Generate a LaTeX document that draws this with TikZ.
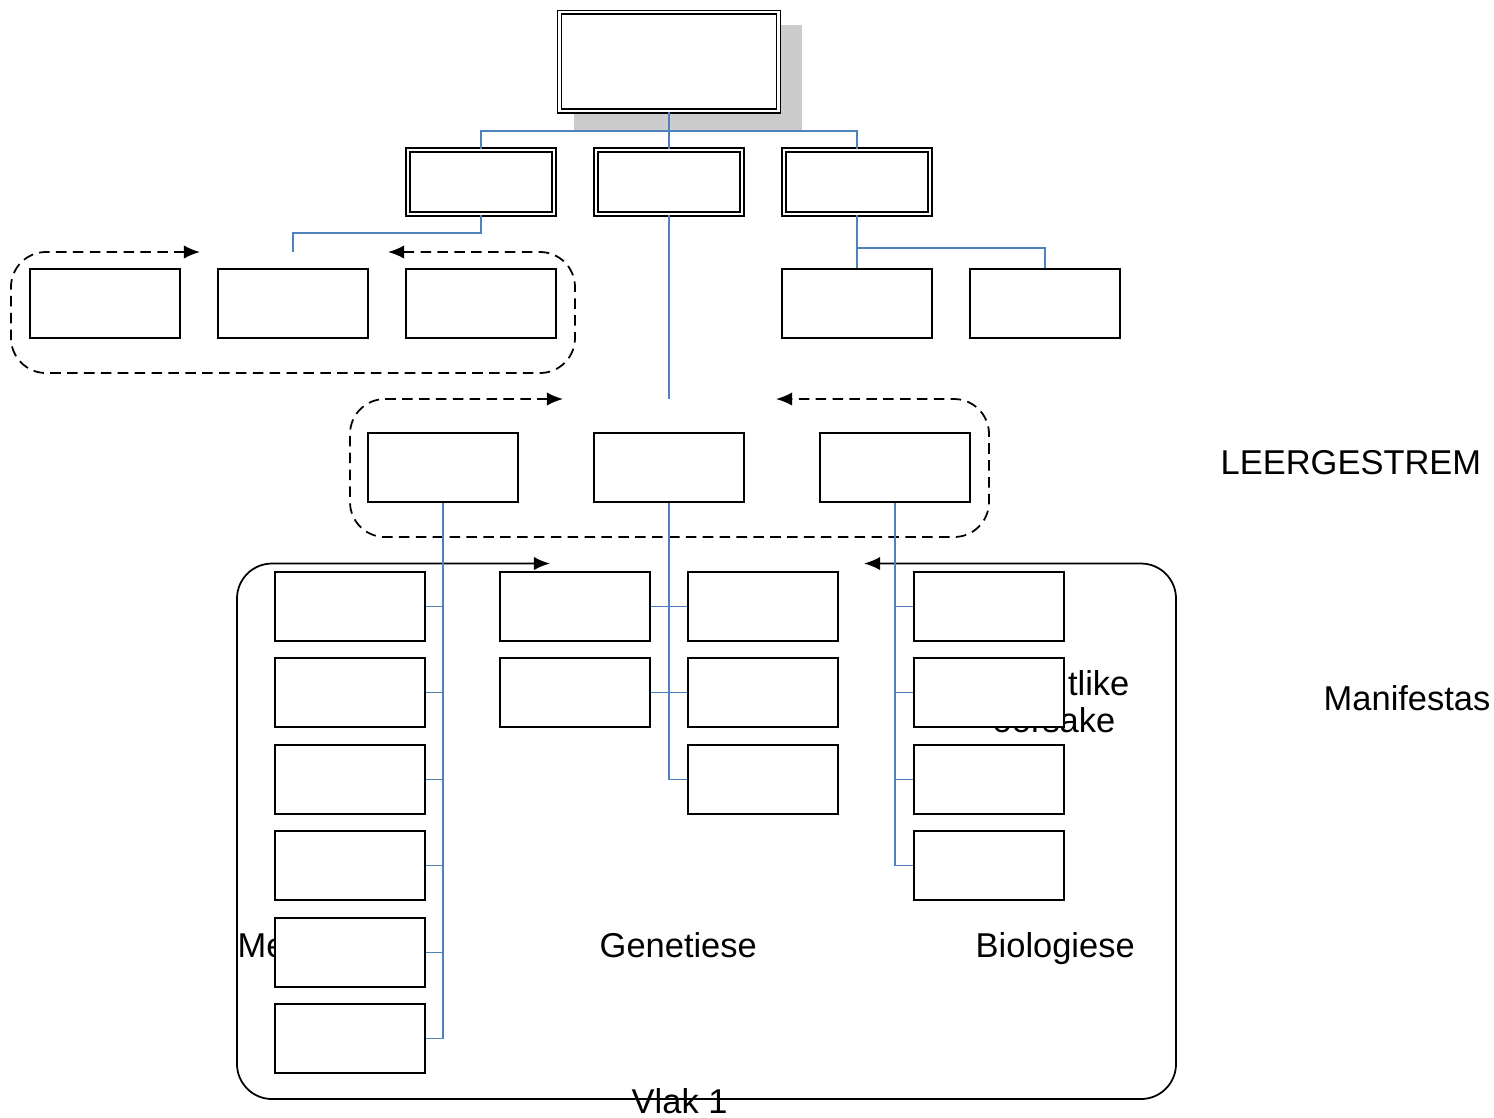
\documentclass[tikz,border=0pt]{standalone}
\usepackage{amsmath, amssymb}
\usepackage{fontspec}
\setmainfont{Liberation Sans}
\usepackage[dvipsnames,table]{xcolor}
\usepackage{tikz}
\usetikzlibrary{shapes,calc,backgrounds}
\usetikzlibrary{arrows.meta,positioning}

\definecolor{linkblue}{RGB}{79,129,189}
\definecolor{shadowgray}{RGB}{204,204,204}

\begin{document}
\begin{tikzpicture}[x=0.01cm,y=-0.01cm,
    box/.style={draw, line width=0.5pt, fill=white, minimum width=1.5cm, minimum height=0.69cm, inner sep=0pt},
    dbox/.style={draw, double, line width=0.45pt, double distance=0.65pt, fill=white, minimum width=1.46cm, minimum height=0.64cm, inner sep=0pt},
    link/.style={draw=linkblue, line width=0.45pt},
    flow/.style={line width=0.5pt, rounded corners=0.35cm, {Latex[length=4.6pt,width=3.8pt]}-{Latex[length=4.6pt,width=3.8pt]}},
    loopline/.style={flow, dash pattern=on 3pt off 1.8pt},
    label/.style={font=\fontsize{9.8}{11}\selectfont, inner sep=0pt}]
        \useasboundingbox (0,0) rectangle (1494,1117);
        % Labels that sit behind the boxes
        \node[label, anchor=base west] (me) at (237,957) {Me};
        \node[label, anchor=base east] (tlike) at (1130,695) {tlike};
        \node[label, anchor=base east] (oorsake) at (1116,732) {oorsake};
        \node[label, anchor=base west] (leer) at (1220,474) {LEERGESTREM};
        \node[label, anchor=base west] (manif) at (1323,710) {Manifestas};
        \node[label, anchor=base west] (gen) at (599,957) {Genetiese};
        \node[label, anchor=base west] (bio) at (975,957) {Biologiese};
        % Top of the tree
        \node[dbox, minimum width=2.19cm, minimum height=0.985cm] (top) at (669,61.5) {};
        \begin{scope}[on background layer]
            \fill[shadowgray] ($(top.north west)+(15.5,13.75)$) rectangle ($(top.south east)+(22.5,19.25)$);
        \end{scope}
        \node[dbox] (n1) at (481,182) {};
        \node[dbox] (n2) at (669,182) {};
        \node[dbox] (n3) at (857,182) {};
        \draw[link] (top.south) -- (n2.north);
        \draw[link] (top.south) -- ++(0,19.25) -| (n1.north);
        \draw[link] (top.south) -- ++(0,19.25) -| (n3.north);
        % Third row
        \node[box] (s1) at (105,303.5) {};
        \node[box] (s2) at (293,303.5) {};
        \node[box] (s3) at (481,303.5) {};
        \node[box] (r1) at (857,303.5) {};
        \node[box] (r2) at (1045,303.5) {};
        \coordinate (e1) at (293,252);
        \draw[link] (n1.south) -- ++(0,18) -| (e1);
        \draw[link] (n3.south) -- (r1.north);
        \draw[link] (n3.south) -- ++(0,33) -| (r2.north);
        \draw[loopline] (200,252) -- (11,252) -- (11,373) -- (575,373) -- (575,252) -- (388,252);
        % Fourth row
        \node[box] (c1) at (443,467.5) {};
        \node[box] (c2) at (669,467.5) {};
        \node[box] (c3) at (895,467.5) {};
        \coordinate (e2) at (669,399);
        \draw[link] (n2.south) -- (e2);
        \draw[loopline] (563,399) -- (350,399) -- (350,537) -- (989,537) -- (989,399) -- (776,399);
        % Vlak 1 frame
        \draw[flow] (550,563.5) -- (237,563.5) -- (237,1099) -- (1176,1099) -- (1176,563.5) -- (864,563.5);
        \node[label, anchor=base west] (vlak) at (631,1113) {Vlak 1};
        % Left column
        \node[box] (m1) at (350,606.5) {};
        \node[box] (m2) at (350,692.5) {};
        \node[box] (m3) at (350,779.5) {};
        \node[box] (m4) at (350,865.5) {};
        \node[box] (m5) at (350,952.5) {};
        \node[box] (m6) at (350,1038.5) {};
        \draw[link] (c1.south) |- (m6.east);
        \draw[link] (m1.east) -- (m1.east -| c1.south);
        \draw[link] (m2.east) -- (m2.east -| c1.south);
        \draw[link] (m3.east) -- (m3.east -| c1.south);
        \draw[link] (m4.east) -- (m4.east -| c1.south);
        \draw[link] (m5.east) -- (m5.east -| c1.south);
        % Middle columns
        \node[box] (g1) at (575,606.5) {};
        \node[box] (g2) at (575,692.5) {};
        \node[box] (g3) at (763,606.5) {};
        \node[box] (g4) at (763,692.5) {};
        \node[box] (g5) at (763,779.5) {};
        \draw[link] (c2.south) |- (g5.west);
        \draw[link] (g1.east) -- (g3.west);
        \draw[link] (g2.east) -- (g4.west);
        % Right column
        \node[box] (b1) at (989,606.5) {};
        \node[box] (b2) at (989,692.5) {};
        \node[box] (b3) at (989,779.5) {};
        \node[box] (b4) at (989,865.5) {};
        \draw[link] (c3.south) |- (b4.west);
        \draw[link] (b1.west) -- (b1.west -| c3.south);
        \draw[link] (b2.west) -- (b2.west -| c3.south);
        \draw[link] (b3.west) -- (b3.west -| c3.south);
\end{tikzpicture}
\end{document}
